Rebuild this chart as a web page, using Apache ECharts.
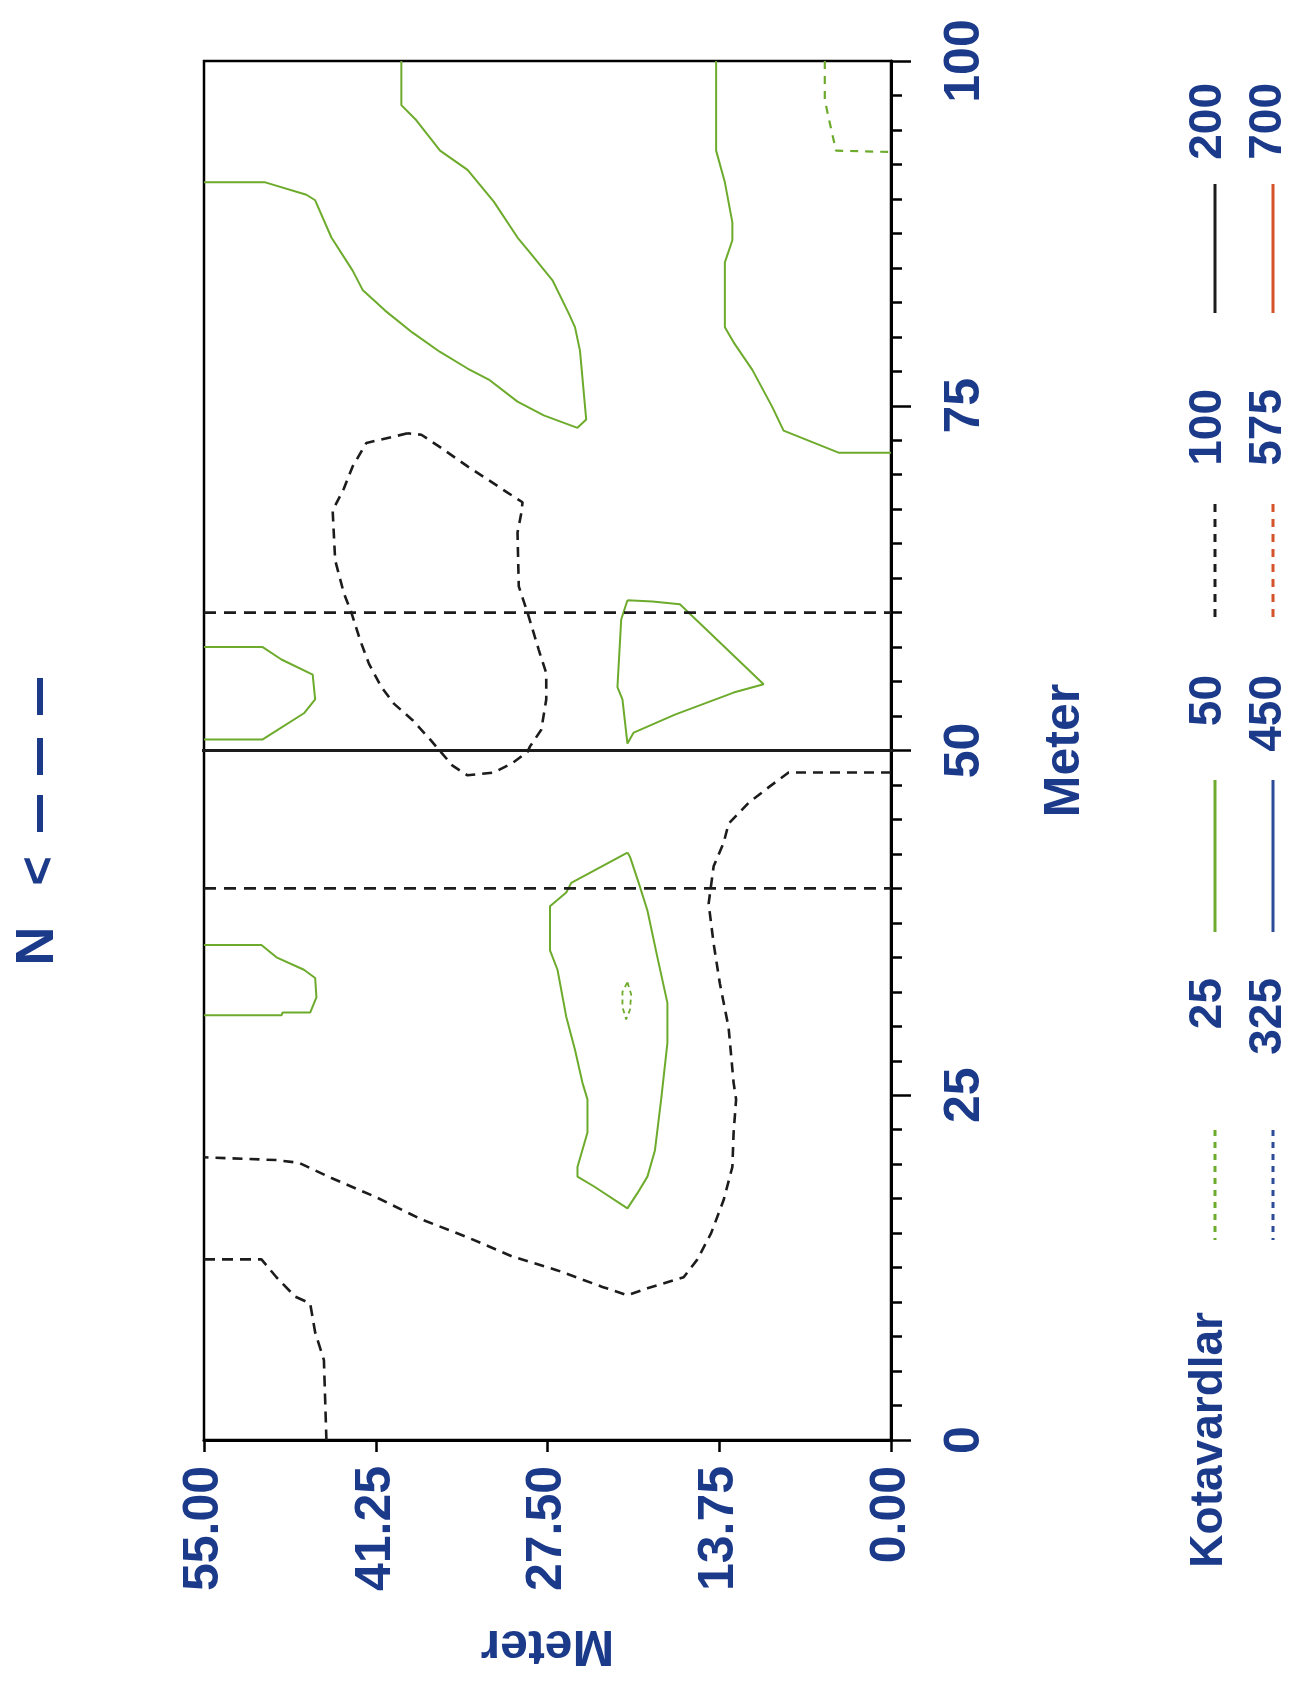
<!DOCTYPE html>
<html>
<head>
<meta charset="utf-8">
<script src="https://cdn.jsdelivr.net/npm/echarts@6/dist/echarts.min.js"></script>
<style>
html,body{margin:0;padding:0;background:#fff;}
#chart{width:1301px;height:1686px;}
</style>
</head>
<body>
<div id="chart"></div>
<script>
// ---- data: [horizontal Meter (0-55), vertical Meter (0-100)] ----
const horizTicks = [0, 13.75, 27.5, 41.25, 55];
const vertTicks = [0, 25, 50, 75, 100];

const c50_a = [[39.2,100],[39.2,96.8],[38.0,95.7],[36.1,93.5],[33.9,92.1],[31.8,89.8],[29.9,87.2],[28.9,86.1],[27.1,84.1],[25.8,81.7],[25.3,80.7],[24.9,79.0],[24.4,74.0],[25.1,73.4],[27.8,74.3],[29.9,75.3],[32.2,76.9],[33.9,77.7],[36.1,78.9],[38.3,80.3],[40.5,81.9],[42.3,83.4],[43.1,84.8],[44.8,87.2],[46.1,89.9],[46.8,90.3],[50.1,91.2],[55,91.2]];
const c50_b = [[14.0,100],[14.0,96.4],[14.0,93.5],[13.3,91.2],[12.7,88.3],[12.7,87.0],[13.3,85.4],[13.3,80.7],[12.6,79.6],[11.1,77.6],[9.5,74.9],[8.6,73.2],[6.4,72.4],[4.2,71.6],[0,71.6]];
const c25_c = [[5.3,100],[5.3,97.2],[5.0,95.9],[4.4,93.5],[0,93.4]];
const c50_d = [[55,57.5],[50.3,57.5],[48.8,56.6],[46.3,55.5],[46.1,53.7],[47.0,52.7],[50.3,50.8],[55,50.8]];
const c100_e = [[38.7,73.0],[42.0,72.3],[43.1,70.6],[43.8,69.0],[44.7,67.4],[44.5,63.8],[43.8,61.4],[43.2,60.0],[42.5,58.0],[41.8,56.3],[40.8,54.6],[39.8,53.4],[38.3,52.2],[36.9,50.8],[35.1,48.9],[33.9,48.2],[31.8,48.4],[30.3,49.1],[29.1,49.9],[28.9,50.3],[28.0,51.5],[27.6,53.7],[27.6,55.6],[28.2,57.3],[29.1,60.0],[29.8,61.9],[29.9,65.8],[29.6,67.2],[29.5,68.0],[30.7,68.7],[32.2,69.6],[33.9,70.6],[36.1,72.0],[37.6,72.9],[38.7,73.0]];
const c50_f = [[21.1,60.9],[19.1,60.8],[16.9,60.6],[14.7,58.7],[10.2,54.8],[12.6,54.2],[17.3,52.6],[20.6,51.3],[21.1,50.5],[21.5,53.7],[21.9,54.6],[21.6,59.5],[21.1,60.9]];
const c100_g = [[0,48.4],[8.2,48.4],[9.7,47.4],[11.4,46.2],[13.0,44.7],[13.4,43.3],[14.2,41.6],[14.6,38.9],[14.2,36.0],[13.7,33.1],[13.0,29.9],[12.6,25.9],[12.4,24.7],[12.6,22.3],[12.7,19.8],[13.4,17.4],[14.4,15.0],[15.5,13.1],[16.6,11.8],[19.5,11.0],[21.1,10.5],[23.1,11.1],[26.7,12.3],[30.3,13.3],[33.9,14.7],[37.6,16.0],[41.2,17.6],[44.8,19.0],[47.4,20.1],[49.2,20.3],[55,20.5]];
const c100_h = [[55,13.1],[50.4,13.1],[49.2,11.8],[47.7,10.4],[46.5,9.9],[46.1,7.8],[45.4,5.8],[45.2,0]];
const c50_i = [[21.1,42.6],[25.6,40.4],[26.0,39.7],[27.3,38.7],[27.3,35.5],[26.7,34.1],[26.0,30.7],[25.3,28.3],[24.7,25.9],[24.3,24.7],[24.3,22.3],[25.1,19.8],[25.1,19.1],[23.8,18.4],[21.1,16.8],[20.3,17.9],[19.5,19.1],[18.9,21.0],[18.4,24.7],[17.9,28.8],[17.9,31.7],[18.7,35.0],[19.5,38.4],[20.2,40.4],[20.9,42.3],[21.1,42.6]];
const c25_j = [[21.1,33.2],[20.8,32.3],[20.9,31.2],[21.2,30.5],[21.5,31.4],[21.5,32.5],[21.1,33.2]];
const c50_k = [[55,35.9],[50.4,35.9],[49.2,35.0],[47.0,34.1],[46.1,33.5],[46.0,32.1],[46.5,31.0],[48.7,31.0],[48.8,30.8],[55,30.8]];

const sectionSolid = [[56.3,50],[-1.4,50]];
const sectionDash40 = [[55,40],[0,40]];
const sectionDash60 = [[55,60],[0,60]];

const legendTitle = 'Kotavardlar';
const legendCol1 = ['200','100','50','25'];
const legendCol2 = ['700','575','450','325'];

// ---- styles ----
const NAVY = '#1b3a8a';
const GREEN = '#6dab2c';
const BLACK = '#1c1c1c';
const RED = '#d4532b';
const BLUE = '#2d4c98';
const FONT = '"Liberation Sans", Arial, sans-serif';

function ser(data, color, dashed, width) {
  return {
    type: 'line', data: data, showSymbol: false, symbol: 'none', smooth: false,
    clip: false, silent: true, animation: false,
    lineStyle: { color: color, width: width || 2, type: dashed ? dashed : 'solid' }
  };
}

const series = [
  ser(c50_a, GREEN), ser(c50_b, GREEN), ser(c50_d, GREEN), ser(c50_f, GREEN),
  ser(c50_i, GREEN), ser(c50_k, GREEN),
  ser(c25_c, GREEN, [8, 7], 2.2), ser(c25_j, GREEN, [5, 4], 1.8),
  ser(c100_e, BLACK, [10, 7], 2.6), ser(c100_g, BLACK, [10, 7], 2.6), ser(c100_h, BLACK, [11, 7], 2.6),
  ser(sectionDash40, BLACK, [12, 8], 2.8), ser(sectionDash60, BLACK, [12, 8], 2.8),
  ser(sectionSolid, BLACK, null, 3.2)
];

// ---- legend graphics (rotated, like the reference) ----
const colTextX = [1208, 1268];
const colLineX = [1215, 1273];
const labelTopY = [83, 389, 675, 978];
const lineRanges = [[184, 313], [504, 624], [780, 932], [1130, 1240]];
const col1Styles = [[BLACK, null], [BLACK, [8, 7]], [GREEN, null], [GREEN, [6, 6]]];
const col2Styles = [[RED, null], [RED, [8, 7]], [BLUE, null], [BLUE, [6, 6]]];

const graphics = [];
function rotText(text, x, y, align, size) {
  graphics.push({
    type: 'text', x: x, y: y, rotation: Math.PI / 2, silent: true,
    style: { text: text, fill: NAVY, font: 'bold ' + size + 'px ' + FONT, textAlign: align, textVerticalAlign: 'middle' }
  });
}
[legendCol1, legendCol2].forEach(function (col, ci) {
  const styles = ci === 0 ? col1Styles : col2Styles;
  col.forEach(function (lab, i) {
    rotText(lab, colTextX[ci], labelTopY[i], 'right', 46);
    graphics.push({
      type: 'line', silent: true,
      shape: { x1: colLineX[ci], y1: lineRanges[i][0], x2: colLineX[ci], y2: lineRanges[i][1] },
      style: { stroke: styles[i][0], lineWidth: 3, lineDash: styles[i][1] || null }
    });
  });
});
rotText(legendTitle, 1209, 1312, 'right', 46);

// North arrow "N <- - -"
rotText('N', 38, 946, 'center', 54);
rotText('<', 40, 871, 'center', 50);
[[678, 715], [738, 775], [795, 832]].forEach(function (r) {
  graphics.push({ type: 'rect', silent: true, shape: { x: 37, y: r[0], width: 6, height: r[1] - r[0] }, style: { fill: NAVY } });
});

const chart = echarts.init(document.getElementById('chart'), null, { renderer: 'canvas' });
chart.setOption({
  animation: false,
  backgroundColor: '#fff',
  grid: { left: 204, right: 410, top: 61, bottom: 246, show: true, borderColor: '#000', borderWidth: 2.5, backgroundColor: 'transparent' },
  xAxis: {
    type: 'value', min: horizTicks[0], max: horizTicks[horizTicks.length - 1], interval: 13.75, inverse: true,
    position: 'bottom',
    name: 'Meter', nameLocation: 'middle', nameRotate: 180, nameGap: 180,
    nameTextStyle: { color: NAVY, fontSize: 50, fontWeight: 'bold', fontFamily: FONT },
    axisLine: { onZero: false, lineStyle: { color: '#000', width: 3 } },
    axisTick: { show: true, length: 12, lineStyle: { color: '#000', width: 2.5 } },
    axisLabel: { rotate: 90, margin: 26, color: NAVY, fontSize: 50, fontWeight: 'bold', fontFamily: FONT,
      formatter: function (v) { return v.toFixed(2); }, showMinLabel: true, showMaxLabel: true, hideOverlap: false },
    splitLine: { show: false }
  },
  yAxis: {
    type: 'value', min: vertTicks[0], max: vertTicks[vertTicks.length - 1], interval: 25,
    position: 'right',
    name: 'Meter', nameLocation: 'middle', nameRotate: 90, nameGap: 149,
    nameTextStyle: { color: NAVY, fontSize: 50, fontWeight: 'bold', fontFamily: FONT },
    axisLine: { onZero: false, lineStyle: { color: '#000', width: 3 } },
    axisTick: { show: true, length: 20, lineStyle: { color: '#000', width: 2.5 } },
    minorTick: { show: true, splitNumber: 10, length: 11, lineStyle: { color: '#000', width: 2.5 } },
    axisLabel: { rotate: 90, margin: 49, color: NAVY, fontSize: 50, fontWeight: 'bold', fontFamily: FONT,
      showMinLabel: true, showMaxLabel: true, hideOverlap: false },
    splitLine: { show: false }, minorSplitLine: { show: false }
  },
  graphic: graphics,
  series: series
});
</script>
</body>
</html>
